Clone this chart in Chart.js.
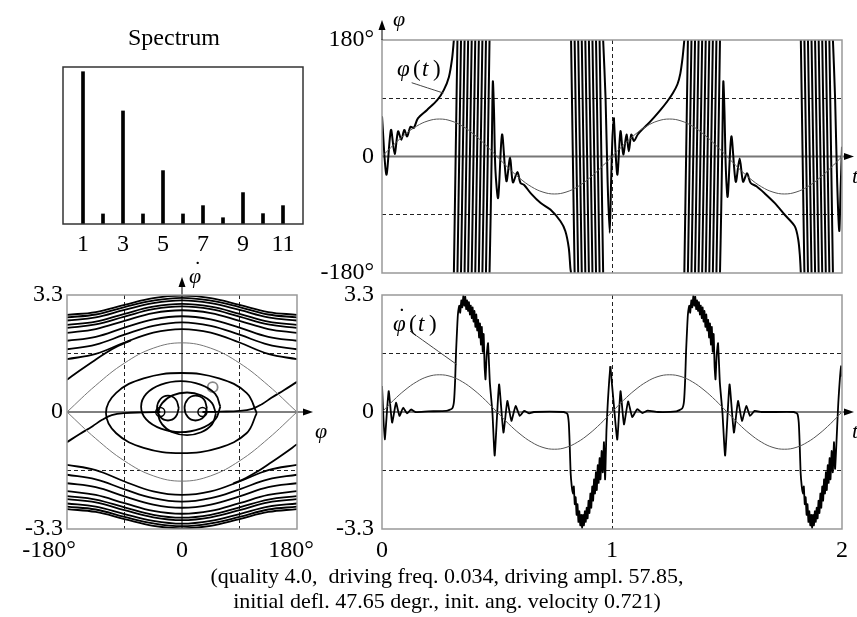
<!DOCTYPE html>
<html>
<head>
<meta charset="utf-8">
<script src="https://cdn.jsdelivr.net/npm/chart.js@4.4.0/dist/chart.umd.min.js"></script>
<style>
html, body { margin: 0; padding: 0; background: #fff; }
#wrap { position: relative; width: 857px; height: 617px; overflow: hidden; }
#wrap canvas { position: absolute; left: 0; top: 0; }
.cap { position: absolute; left: 0; width: 894px; text-align: center; white-space: pre;
  font: 22px 'Liberation Serif', 'Times New Roman', serif; line-height: 22px; color: #000; }
</style>
</head>
<body>
<div id="wrap">
  <canvas id="spec" width="857" height="617"></canvas>
  <canvas id="phiT" width="857" height="617"></canvas>
  <canvas id="dotT" width="857" height="617"></canvas>
  <canvas id="phase" width="857" height="617"></canvas>
  <div class="cap" style="top:565px">(quality 4.0,  driving freq. 0.034, driving ampl. 57.85,</div>
  <div class="cap" style="top:590px">initial defl. 47.65 degr., init. ang. velocity 0.721)</div>
</div>
<script>
// ---- spectrum ----
const specHarmonics = [1, 2, 3, 4, 5, 6, 7, 8, 9, 10, 11];
const specAmplitudes = [0.97, 0.064, 0.72, 0.064, 0.34, 0.064, 0.117, 0.04, 0.2, 0.066, 0.117];
const specTicks = [1, 3, 5, 7, 9, 11];

// ---- ticks ----
const timeTicks = [0, 1, 2];
const phiTicks = [-180, -90, 0, 90, 180];
const phiDotTicks = [-3.3, -1.65, 0, 1.65, 3.3];
const phaseTicks = [-180, -90, 0, 90, 180];

// ---- driving (thin) curves ----
const driveTimes = [0, 0.05, 0.1, 0.15, 0.2, 0.25, 0.3, 0.35, 0.4, 0.45, 0.5, 0.55, 0.6, 0.65, 0.7, 0.75, 0.8, 0.85, 0.9, 0.95,
  1, 1.05, 1.1, 1.15, 1.2, 1.25, 1.3, 1.35, 1.4, 1.45, 1.5, 1.55, 1.6, 1.65, 1.7, 1.75, 1.8, 1.85, 1.9, 1.95, 2];
const phiDrive = [0, 17.9, 34, 46.8, 55, 57.9, 55, 46.8, 34, 17.9, 0, -17.9, -34, -46.8, -55, -57.9, -55, -46.8, -34, -17.9,
  0, 17.9, 34, 46.8, 55, 57.9, 55, 46.8, 34, 17.9, 0, -17.9, -34, -46.8, -55, -57.9, -55, -46.8, -34, -17.9, 0];
const phiDotDrive = [0, 0.33, 0.62, 0.85, 1, 1.05, 1, 0.85, 0.62, 0.33, 0, -0.33, -0.62, -0.85, -1, -1.05, -1, -0.85, -0.62, -0.33,
  0, 0.33, 0.62, 0.85, 1, 1.05, 1, 0.85, 0.62, 0.33, 0, -0.33, -0.62, -0.85, -1, -1.05, -1, -0.85, -0.62, -0.33, 0];

// ---- phi(t), degrees; null = wrap at ±180 ----
const phiPeriod1 = [
  [0, 62], [0.019, -28], [0.039, 41], [0.055, 4], [0.07, 39], [0.084, 26], [0.097, 41], [0.109, 31], [0.124, 46], [0.138, 44],
  [0.156, 59], [0.196, 72], [0.24, 87], [0.269, 103], [0.291, 123], [0.305, 152], [0.3125, 180], null,
  [0.3125, -180], [0.328, 180], null, [0.328, -180], [0.3435, 180], null, [0.3435, -180], [0.359, 180], null,
  [0.359, -180], [0.3745, 180], null, [0.3745, -180], [0.39, 180], null, [0.39, -180], [0.4055, 180], null,
  [0.4055, -180], [0.421, 180], null, [0.421, -180], [0.4365, 180], null, [0.4365, -180], [0.452, 180], null,
  [0.452, -180], [0.4675, 180], null,
  [0.4675, -180], [0.473, -80], [0.478, 30], [0.482, 116], [0.487, 70], [0.493, -20], [0.505, -64], [0.522, 34],
  [0.541, -38], [0.557, -2], [0.569, -40], [0.589, -24], [0.602, -41], [0.618, -44], [0.647, -57], [0.69, -72],
  [0.732, -82], [0.776, -100], [0.797, -115], [0.812, -141], [0.819, -172], [0.822, -180], null,
  [0.822, 180], [0.8375, -180], null, [0.8375, 180], [0.853, -180], null, [0.853, 180], [0.8685, -180], null,
  [0.8685, 180], [0.884, -180], null, [0.884, 180], [0.8995, -180], null, [0.8995, 180], [0.915, -180], null,
  [0.915, 180], [0.9305, -180], null, [0.9305, 180], [0.946, -180], null, [0.946, 180], [0.9615, -180], null,
  [0.9615, 180], [0.972, 90], [0.981, -40], [0.99, -118], [0.996, -40], [1.002, 30], [1.008, 60]
];
const phiPeriod2 = [
  [1.008, 60], [1.023, -28], [1.037, 39], [1.049, 3], [1.063, 34], [1.073, 8], [1.084, 34], [1.095, 24], [1.112, 34],
  [1.132, 42], [1.153, 49], [1.182, 60], [1.211, 72], [1.24, 85], [1.265, 98], [1.285, 112], [1.297, 128],
  [1.306, 150], [1.311, 167], [1.3145, 180], null,
  [1.3145, -180], [1.33, 180], null, [1.33, -180], [1.3455, 180], null, [1.3455, -180], [1.361, 180], null,
  [1.361, -180], [1.3765, 180], null, [1.3765, -180], [1.392, 180], null, [1.392, -180], [1.4075, 180], null,
  [1.4075, -180], [1.423, 180], null, [1.423, -180], [1.4385, 180], null, [1.4385, -180], [1.454, 180], null,
  [1.454, -180], [1.4695, 180], null,
  [1.4695, -180], [1.475, -80], [1.48, 30], [1.484, 116], [1.489, 70], [1.495, -20], [1.503, -62], [1.519, 31],
  [1.538, -39], [1.555, -3], [1.57, -39], [1.587, -26], [1.603, -41], [1.628, -46], [1.664, -57], [1.708, -72],
  [1.751, -90], [1.795, -108], [1.81, -129], [1.817, -154], [1.821, -180], null,
  [1.821, 180], [1.8365, -180], null, [1.8365, 180], [1.852, -180], null, [1.852, 180], [1.8675, -180], null,
  [1.8675, 180], [1.883, -180], null, [1.883, 180], [1.8985, -180], null, [1.8985, 180], [1.914, -180], null,
  [1.914, 180], [1.9295, -180], null, [1.9295, 180], [1.945, -180], null, [1.945, 180], [1.9605, -180], null,
  [1.9605, 180], [1.97, 90], [1.979, -40], [1.988, -115], [1.994, -50], [2, 15]
];

// ---- dphi/dt(t) ----
const phiDotPeriod1 = [
  [0, 0.73], [0.012, -0.77], [0.029, 0.59], [0.044, -0.3], [0.061, 0.26], [0.076, -0.11], [0.092, 0.12], [0.109, -0.04],
  [0.126, 0.07], [0.145, 0], [0.2, 0.02], [0.28, 0.03], [0.305, 0.1], [0.313, 0.3], [0.318, 0.9], [0.322, 1.7],
  [0.327, 2.4], [0.33, 2.75], [0.336, 3], [0.34, 2.8], [0.345, 3.15], [0.349, 2.95], [0.354, 3.3], [0.358, 3],
  [0.362, 3.25], [0.366, 2.9], [0.37, 3.15], [0.374, 2.85], [0.378, 3.1], [0.382, 2.75], [0.386, 3], [0.39, 2.65],
  [0.394, 2.95], [0.398, 2.55], [0.402, 2.85], [0.406, 2.4], [0.41, 2.75], [0.414, 2.3], [0.418, 2.6], [0.422, 2.1],
  [0.426, 2.5], [0.43, 1.9], [0.434, 2.4], [0.438, 1.7], [0.442, 2.2], [0.446, 1.3], [0.45, 0.92], [0.455, 1.6],
  [0.461, 1.94], [0.469, 0.82], [0.48, 0], [0.49, -1.23], [0.509, 0.78], [0.528, -0.58], [0.545, 0.31],
  [0.5625, -0.25], [0.581, 0.17], [0.599, -0.11], [0.618, 0.03], [0.64, -0.04], [0.66, 0], [0.79, 0],
  [0.806, -0.05], [0.812, -0.3], [0.816, -0.9], [0.82, -1.7], [0.825, -2.1], [0.83, -2.3], [0.834, -2.1],
  [0.838, -2.6], [0.842, -2.4], [0.846, -2.9], [0.85, -2.6], [0.854, -3.1], [0.858, -2.8], [0.862, -3.2],
  [0.866, -2.9], [0.87, -3.3], [0.874, -2.9], [0.878, -3.2], [0.882, -2.8], [0.886, -3.1], [0.89, -2.7],
  [0.894, -3], [0.898, -2.5], [0.902, -2.85], [0.906, -2.3], [0.91, -2.7], [0.914, -2.1], [0.918, -2.5],
  [0.922, -1.9], [0.926, -2.3], [0.93, -1.7], [0.934, -2.2], [0.938, -1.5], [0.942, -2], [0.946, -1.3],
  [0.95, -1.9], [0.955, -1.1], [0.96, -1.7], [0.965, -0.85], [0.97, -1.9], [0.976, -0.5], [0.982, 0.3],
  [0.988, 0.9], [0.993, 1.29]
];
const phiDotPeriod2 = [
  [0.993, 1.29], [1.008, 0.2], [1.023, -0.78], [1.037, 0.59], [1.052, -0.35], [1.07, 0.3], [1.088, -0.14], [1.11, 0.08],
  [1.132, -0.03], [1.155, 0.04], [1.2, 0], [1.28, 0.02], [1.305, 0.1], [1.313, 0.3], [1.318, 0.9], [1.322, 1.7],
  [1.327, 2.4], [1.33, 2.75], [1.336, 3], [1.34, 2.8], [1.345, 3.15], [1.349, 2.95], [1.354, 3.3], [1.358, 3],
  [1.362, 3.25], [1.366, 2.9], [1.37, 3.15], [1.374, 2.85], [1.378, 3.1], [1.382, 2.75], [1.386, 3], [1.39, 2.65],
  [1.394, 2.95], [1.398, 2.55], [1.402, 2.85], [1.406, 2.4], [1.41, 2.75], [1.414, 2.3], [1.418, 2.6], [1.422, 2.1],
  [1.426, 2.5], [1.43, 1.9], [1.434, 2.4], [1.438, 1.7], [1.442, 2.2], [1.446, 1.3], [1.45, 0.92], [1.455, 1.6],
  [1.461, 1.94], [1.469, 0.82], [1.48, 0], [1.492, -1.23], [1.511, 0.78], [1.53, -0.58], [1.548, 0.31],
  [1.565, -0.25], [1.584, 0.17], [1.6, -0.11], [1.62, 0.03], [1.65, 0], [1.79, 0],
  [1.806, -0.05], [1.812, -0.3], [1.816, -0.9], [1.82, -1.7], [1.825, -2.1], [1.83, -2.3], [1.834, -2.1],
  [1.838, -2.6], [1.842, -2.4], [1.846, -2.9], [1.85, -2.6], [1.854, -3.1], [1.858, -2.8], [1.862, -3.2],
  [1.866, -2.9], [1.87, -3.3], [1.874, -2.9], [1.878, -3.2], [1.882, -2.8], [1.886, -3.1], [1.89, -2.7],
  [1.894, -3], [1.898, -2.5], [1.902, -2.85], [1.906, -2.3], [1.91, -2.7], [1.914, -2.1], [1.918, -2.5],
  [1.922, -1.9], [1.926, -2.3], [1.93, -1.7], [1.934, -2.2], [1.938, -1.5], [1.942, -2], [1.946, -1.3],
  [1.95, -1.9], [1.955, -1.1], [1.96, -1.7], [1.965, -0.85], [1.97, -1.6], [1.984, 0.26], [1.996, 1.29], [2, 1]
];

// label leader lines [t, value]
const phiLeader = [[0.129, 114], [0.267, 98]];
const phiDotLeader = [[0.122, 2.28], [0.325, 1.34]];

// ---- phase portrait [phi deg, dphi/dt] ----
const phaseGrid = [-180, -135, -90, -45, 0, 45, 90, 135, 180];
const upperRotations = [
  [2.74, 2.82, 3.02, 3.21, 3.28, 3.21, 3.02, 2.82, 2.74],
  [2.67, 2.75, 2.96, 3.14, 3.22, 3.14, 2.96, 2.75, 2.67],
  [2.58, 2.67, 2.88, 3.07, 3.15, 3.07, 2.88, 2.67, 2.58],
  [2.46, 2.55, 2.77, 2.97, 3.05, 2.97, 2.77, 2.55, 2.46],
  [2.37, 2.47, 2.69, 2.9, 2.98, 2.9, 2.69, 2.47, 2.37],
  [2.23, 2.34, 2.57, 2.79, 2.87, 2.79, 2.57, 2.34, 2.23],
  [2.01, 2.12, 2.38, 2.61, 2.7, 2.61, 2.38, 2.12, 2.01],
  [1.77, 1.9, 2.18, 2.43, 2.53, 2.43, 2.18, 1.9, 1.77],
  [1.49, 1.64, 1.96, 2.24, 2.34, 2.24, 1.96, 1.64, 1.49]
];
const lowerRotations = [
  [-2.74, -2.82, -3.02, -3.21, -3.28, -3.21, -3.02, -2.82, -2.74],
  [-2.67, -2.75, -2.96, -3.14, -3.22, -3.14, -2.96, -2.75, -2.67],
  [-2.58, -2.67, -2.88, -3.07, -3.15, -3.07, -2.88, -2.67, -2.58],
  [-2.46, -2.55, -2.77, -2.97, -3.05, -2.97, -2.77, -2.55, -2.46],
  [-2.37, -2.47, -2.69, -2.9, -2.98, -2.9, -2.69, -2.47, -2.37],
  [-2.23, -2.34, -2.57, -2.79, -2.87, -2.79, -2.57, -2.34, -2.23],
  [-2.01, -2.12, -2.38, -2.61, -2.7, -2.61, -2.38, -2.12, -2.01],
  [-1.77, -1.9, -2.18, -2.43, -2.53, -2.43, -2.18, -1.9, -1.77],
  [-1.49, -1.64, -1.96, -2.24, -2.34, -2.24, -1.96, -1.64, -1.49]
];
const separatrixUpper = [[-180, 0], [-135, 0.75], [-90, 1.38], [-45, 1.8], [0, 1.95], [45, 1.8], [90, 1.38], [135, 0.75], [180, 0]];
const separatrixLower = [[-180, 0], [-135, -0.75], [-90, -1.38], [-45, -1.8], [0, -1.95], [45, -1.8], [90, -1.38], [135, -0.75], [180, 0]];
const riseLeft = [[-180, 0.91], [-160, 1.17], [-140, 1.42], [-120, 1.66], [-100, 1.86], [-80, 2.02]];
const dropRight = [[180, -0.91], [160, -1.17], [140, -1.42], [120, -1.66], [100, -1.86], [80, -2.02]];
const exitRight = [[32, 0], [60, 0.01], [90, 0.03], [110, 0.09], [125, 0.22], [140, 0.4], [160, 0.62], [180, 0.85]];
const exitLeft = [[-34, 0], [-60, -0.01], [-90, -0.03], [-110, -0.09], [-125, -0.22], [-140, -0.4], [-160, -0.62], [-180, -0.85]];
const bigLoop = [[117, -0.03], [101, 0.54], [58, 0.95], [-1, 1.1], [-60, 0.95], [-103, 0.54], [-119, -0.03], [-103, -0.6],
  [-60, -1.01], [-1, -1.16], [58, -1.01], [101, -0.6], [117, -0.03]];
const midLoop = [[60, 0.15], [52, 0.51], [29, 0.77], [-2, 0.87], [-33, 0.77], [-56, 0.51], [-64, 0.15], [-56, -0.21],
  [-33, -0.47], [-2, -0.57], [29, -0.47], [52, -0.21], [60, 0.15]];
const innerLoop = [[53, -0.05], [47, 0.25], [30, 0.47], [8, 0.55], [-15, 0.47], [-31, 0.25], [-37, -0.05], [-31, -0.35],
  [-15, -0.57], [8, -0.65], [30, -0.57], [47, -0.35], [53, -0.05]];
const leftCircle = [[-5, 0.11], [-10, 0.36], [-22, 0.46], [-34, 0.36], [-39, 0.11], [-34, -0.14], [-22, -0.24], [-10, -0.14], [-5, 0.11]];
const rightCircle = [[39, 0.11], [34, 0.36], [21, 0.46], [9, 0.36], [4, 0.11], [9, -0.14], [21, -0.24], [34, -0.14], [39, 0.11]];
const restPoints = [[-34, 0], [32, 0]];
const initialPoint = [[48, 0.7]];

// ---------------------------------------------------------------
Chart.defaults.font.family = "'Liberation Serif', 'Times New Roman', serif";
Chart.defaults.color = '#000';

const SERIF = "'Liberation Serif', 'Times New Roman', serif";
const W = 857, H = 617;

function pts(arr) {
  return arr.map(p => p ? { x: p[0], y: p[1] } : { x: null, y: null });
}
function heavy(arr, tension, width) {
  return { data: pts(arr), showLine: true, pointRadius: 0, borderColor: '#000', borderWidth: width || 1.8,
    tension: tension === undefined ? 0.3 : tension, spanGaps: false };
}
function thin(arr, color) {
  return { data: pts(arr), showLine: true, pointRadius: 0, borderColor: color || '#555', borderWidth: 1, tension: 0.4 };
}
function fixedTicks(values) {
  return s => { s.ticks = values.map(v => ({ value: v })); };
}
function frame(chart, color) {
  const { ctx, chartArea: a } = chart;
  ctx.save();
  ctx.strokeStyle = color; ctx.lineWidth = 1.5;
  ctx.strokeRect(a.left, a.top, a.width, a.height);
  ctx.restore();
}
function arrowUp(ctx, x, y) {
  ctx.beginPath(); ctx.moveTo(x, y); ctx.lineTo(x - 3.5, y + 10); ctx.lineTo(x + 3.5, y + 10); ctx.closePath(); ctx.fill();
}
function arrowRight(ctx, x, y) {
  ctx.beginPath(); ctx.moveTo(x, y); ctx.lineTo(x - 10, y - 3.5); ctx.lineTo(x - 10, y + 3.5); ctx.closePath(); ctx.fill();
}
function text(ctx, s, x, y, size, italic) {
  ctx.font = (italic ? 'italic ' : '') + size + 'px ' + SERIF;
  ctx.fillStyle = '#000';
  ctx.textBaseline = 'alphabetic';
  ctx.textAlign = 'left';
  ctx.fillText(s, x, y);
}
// φ with a dot above (time derivative)
function phiDot(ctx, x, y, size) {
  text(ctx, 'φ', x, y, size, true);
  text(ctx, '˙', x + 5, y - 7, size, false);
}
// φ(t) style label: italic letters, upright brackets
function funcLabel(ctx, dotted, x, y) {
  if (dotted) phiDot(ctx, x, y, 23); else text(ctx, 'φ', x, y, 23, true);
  text(ctx, '(', x + 16, y, 23, false);
  text(ctx, 't', x + 25, y, 23, true);
  text(ctx, ')', x + 36, y, 23, false);
}
const dashColor = values => c => (values.includes(c.tick && c.tick.value) ? '#222' : 'rgba(0,0,0,0)');

// ---- spectrum ----
new Chart(document.getElementById('spec'), {
  type: 'bar',
  data: { datasets: [{ data: specHarmonics.map((h, i) => ({ x: h, y: specAmplitudes[i] })), backgroundColor: '#000', barThickness: 3 }] },
  options: {
    responsive: false, animation: false, devicePixelRatio: 1,
    layout: { padding: { left: 63, top: 67, right: W - 303, bottom: 0 } },
    plugins: { legend: { display: false }, tooltip: { enabled: false } },
    scales: {
      x: { type: 'linear', min: 0, max: 12, offset: false, afterBuildTicks: fixedTicks(specTicks),
        ticks: { font: { size: 24 }, padding: 6, maxRotation: 0, autoSkip: false },
        grid: { display: false, drawTicks: false, offset: false }, border: { display: false },
        afterFit: s => { s.height = H - 224; } },
      y: { display: false, min: 0, max: 1 }
    }
  },
  plugins: [{
    id: 'specDecor',
    afterDatasetsDraw(c) {
      frame(c, '#333');
      const ctx = c.ctx;
      ctx.save();
      ctx.font = '24px ' + SERIF; ctx.textAlign = 'center'; ctx.textBaseline = 'alphabetic'; ctx.fillStyle = '#000';
      ctx.fillText('Spectrum', 174, 45);
      ctx.restore();
    }
  }]
});

// ---- phi(t) ----
const phiLabels = { '-180': '-180°', '0': '0', '180': '180°' };
new Chart(document.getElementById('phiT'), {
  type: 'scatter',
  data: { datasets: [
    thin(driveTimes.map((t, i) => [t, phiDrive[i]]), '#555'),
    thin(phiLeader, '#444'),
    heavy(phiPeriod1, 0.3, 2), heavy(phiPeriod2, 0.3, 2)
  ] },
  options: {
    responsive: false, animation: false, devicePixelRatio: 1,
    layout: { padding: { left: 0, top: 40, right: W - 842, bottom: 0 } },
    plugins: { legend: { display: false }, tooltip: { enabled: false } },
    scales: {
      x: { type: 'linear', min: 0, max: 2, afterBuildTicks: fixedTicks(timeTicks),
        ticks: { display: false }, grid: { drawTicks: false, color: dashColor([1]) },
        border: { display: false, dash: [4, 3] }, afterFit: s => { s.height = H - 273; } },
      y: { min: -180, max: 180, afterBuildTicks: fixedTicks(phiTicks),
        ticks: { font: { size: 24 }, padding: 8, autoSkip: false, callback: v => phiLabels[v] || '' },
        grid: { drawTicks: false, color: dashColor([-90, 90]) },
        border: { display: false, dash: [4, 3] }, afterFit: s => { s.width = 382; } }
    }
  },
  plugins: [{
    id: 'phiDecor',
    beforeDatasetsDraw(c) {
      const { ctx, chartArea: a, scales: { y } } = c;
      const y0 = y.getPixelForValue(0);
      ctx.save();
      ctx.strokeStyle = '#777'; ctx.lineWidth = 2;
      ctx.beginPath(); ctx.moveTo(a.left, y0); ctx.lineTo(a.right + 4, y0); ctx.stroke();
      ctx.restore();
    },
    afterDatasetsDraw(c) {
      const { ctx, chartArea: a, scales: { y } } = c;
      frame(c, '#999');
      const y0 = y.getPixelForValue(0);
      ctx.save();
      ctx.fillStyle = '#000'; ctx.strokeStyle = '#000'; ctx.lineWidth = 1;
      arrowRight(ctx, a.right + 12, y0);
      ctx.beginPath(); ctx.moveTo(a.left, a.top); ctx.lineTo(a.left, a.top - 12); ctx.stroke();
      arrowUp(ctx, a.left, a.top - 20);
      text(ctx, 'φ', a.left + 11, a.top - 14, 22, true);
      text(ctx, 't', a.right + 10, y0 + 26, 22, true);
      funcLabel(ctx, false, a.left + 15, a.top + 36);
      ctx.restore();
    }
  }]
});

// ---- dphi/dt(t) ----
const dotLabels = { '-3.3': '-3.3', '0': '0', '3.3': '3.3' };
const timeLabels = { '0': '0', '1': '1', '2': '2' };
new Chart(document.getElementById('dotT'), {
  type: 'scatter',
  data: { datasets: [
    thin(driveTimes.map((t, i) => [t, phiDotDrive[i]]), '#555'),
    thin(phiDotLeader, '#444'),
    heavy(phiDotPeriod1, 0.15), heavy(phiDotPeriod2, 0.15)
  ] },
  options: {
    responsive: false, animation: false, devicePixelRatio: 1,
    layout: { padding: { left: 0, top: 295, right: W - 842, bottom: 0 } },
    plugins: { legend: { display: false }, tooltip: { enabled: false } },
    scales: {
      x: { type: 'linear', min: 0, max: 2, afterBuildTicks: fixedTicks(timeTicks),
        ticks: { font: { size: 24 }, padding: 7, maxRotation: 0, autoSkip: false, callback: v => timeLabels[v] || '' },
        grid: { drawTicks: false, color: dashColor([1]) },
        border: { display: false, dash: [4, 3] }, afterFit: s => { s.height = H - 529; } },
      y: { min: -3.3, max: 3.3, afterBuildTicks: fixedTicks(phiDotTicks),
        ticks: { font: { size: 24 }, padding: 8, autoSkip: false, callback: v => dotLabels[v] || '' },
        grid: { drawTicks: false, color: dashColor([-1.65, 1.65]) },
        border: { display: false, dash: [4, 3] }, afterFit: s => { s.width = 382; } }
    }
  },
  plugins: [{
    id: 'dotDecor',
    beforeDatasetsDraw(c) {
      const { ctx, chartArea: a, scales: { y } } = c;
      const y0 = y.getPixelForValue(0);
      ctx.save();
      ctx.strokeStyle = '#555'; ctx.lineWidth = 1.5;
      ctx.beginPath(); ctx.moveTo(a.left, y0); ctx.lineTo(a.right + 4, y0); ctx.stroke();
      ctx.restore();
    },
    afterDatasetsDraw(c) {
      const { ctx, chartArea: a, scales: { y } } = c;
      frame(c, '#999');
      const y0 = y.getPixelForValue(0);
      ctx.save();
      ctx.fillStyle = '#000';
      arrowRight(ctx, a.right + 12, y0);
      text(ctx, 't', a.right + 10, y0 + 26, 22, true);
      funcLabel(ctx, true, a.left + 11, a.top + 36);
      ctx.restore();
    }
  }]
});

// ---- phase portrait ----
// trailing spaces push the centred end labels inwards as in the original
const phaseLabels = { '-180': '-180°\u2003\u2002', '0': '0', '180': '180°\u2002' };
const phaseSets = [
  thin(separatrixUpper, '#777'), thin(separatrixLower, '#777'),
  ...upperRotations.map(r => heavy(phaseGrid.map((p, i) => [p, r[i]]), 0.4)),
  ...lowerRotations.map(r => heavy(phaseGrid.map((p, i) => [p, r[i]]), 0.4)),
  heavy(riseLeft, 0.4), heavy(dropRight, 0.4), heavy(exitRight, 0.4), heavy(exitLeft, 0.4),
  heavy(bigLoop, 0.4), heavy(midLoop, 0.4), heavy(innerLoop, 0.4), heavy(leftCircle, 0.45), heavy(rightCircle, 0.45),
  { data: pts(restPoints), pointRadius: 4.5, pointBorderColor: '#000', pointBackgroundColor: 'rgba(0,0,0,0)', pointBorderWidth: 1.5, showLine: false },
  { data: pts(initialPoint), pointRadius: 5, pointBorderColor: '#888', pointBackgroundColor: '#fff', pointBorderWidth: 1.8, showLine: false }
];
new Chart(document.getElementById('phase'), {
  type: 'scatter',
  data: { datasets: phaseSets },
  options: {
    responsive: false, animation: false, devicePixelRatio: 1,
    layout: { padding: { left: 0, top: 295, right: W - 297, bottom: 0 } },
    plugins: { legend: { display: false }, tooltip: { enabled: false } },
    scales: {
      x: { type: 'linear', min: -180, max: 180, afterBuildTicks: fixedTicks(phaseTicks),
        ticks: { font: { size: 24 }, padding: 7, maxRotation: 0, autoSkip: false, callback: v => phaseLabels[v] || '' },
        grid: { drawTicks: false, color: dashColor([-90, 90]) },
        border: { display: false, dash: [4, 3] }, afterFit: s => { s.height = H - 529; } },
      y: { min: -3.3, max: 3.3, afterBuildTicks: fixedTicks(phiDotTicks),
        ticks: { font: { size: 24 }, padding: 4, autoSkip: false, callback: v => dotLabels[v] || '' },
        grid: { drawTicks: false, color: dashColor([-1.65, 1.65]) },
        border: { display: false, dash: [4, 3] }, afterFit: s => { s.width = 67; } }
    }
  },
  plugins: [{
    id: 'phaseDecor',
    beforeDatasetsDraw(c) {
      const { ctx, chartArea: a, scales: { x, y } } = c;
      const x0 = x.getPixelForValue(0), y0 = y.getPixelForValue(0);
      ctx.save();
      ctx.strokeStyle = '#000'; ctx.fillStyle = '#000'; ctx.lineWidth = 1;
      ctx.beginPath(); ctx.moveTo(x0, a.bottom); ctx.lineTo(x0, a.top - 12); ctx.stroke();
      ctx.beginPath(); ctx.moveTo(a.left, y0); ctx.lineTo(a.right + 10, y0); ctx.stroke();
      arrowUp(ctx, x0, a.top - 18);
      arrowRight(ctx, a.right + 16, y0);
      ctx.restore();
    },
    afterDatasetsDraw(c) {
      const { ctx, chartArea: a, scales: { x, y } } = c;
      frame(c, '#999');
      const x0 = x.getPixelForValue(0), y0 = y.getPixelForValue(0);
      ctx.save();
      phiDot(ctx, x0 + 7, a.top - 12, 22);
      text(ctx, 'φ', a.right + 18, y0 + 26, 22, true);
      ctx.restore();
    }
  }]
});
</script>
</body>
</html>
